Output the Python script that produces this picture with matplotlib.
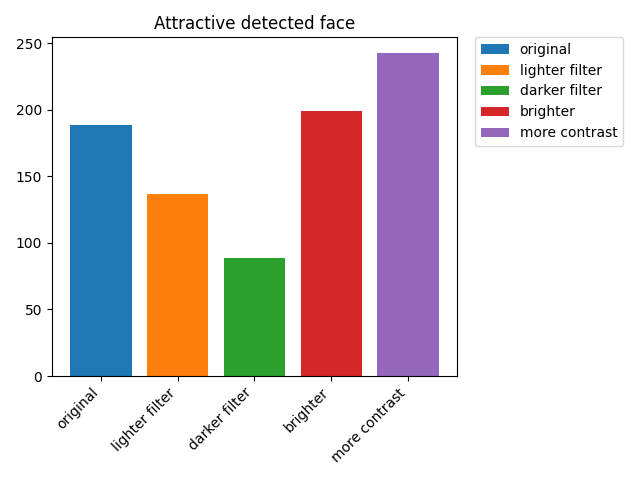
import matplotlib
matplotlib.use("Agg")
import matplotlib.pyplot as plt

categories = ["original", "lighter filter", "darker filter", "brighter", "more contrast"]
values = [188.5, 137, 89, 199, 242.5]
colors = ["#1f77b4", "#ff7f0e", "#2ca02c", "#d62728", "#9467bd"]

fig, ax = plt.subplots(figsize=(6.4, 4.8), dpi=100)
bars = ax.bar(categories, values, color=colors, label=categories)
ax.set_title("Attractive detected face")
ax.set_xticks(range(len(categories)))
ax.set_xticklabels(categories, rotation=45, ha="right")
ax.legend(bbox_to_anchor=(1.045, 1), loc="upper left", borderaxespad=0.)
fig.subplots_adjust(left=52/640, right=457/640, top=1-37/480, bottom=1-376/480)
fig.savefig("out.png")
